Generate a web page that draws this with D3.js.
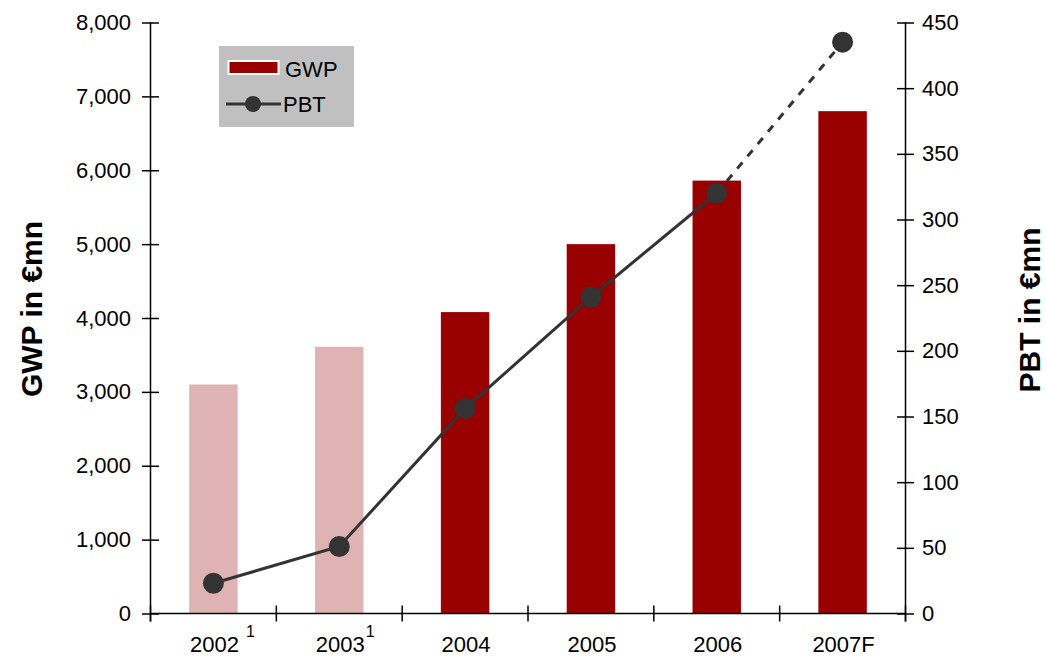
<!DOCTYPE html>
<html>
<head>
<meta charset="utf-8">
<script src="https://cdn.jsdelivr.net/npm/d3@7"></script>
<style>
  html, body { margin: 0; padding: 0; background: #fff; }
  svg { display: block; font-family: "Liberation Sans", Arial, sans-serif; }
</style>
</head>
<body>
<svg id="chart" width="1046" height="658"></svg>
<script>
// ---- data ----
const categories = ["2002", "2003", "2004", "2005", "2006", "2007F"];
const footnotes = ["1", "1", "", "", "", ""];
const footnoteGap = [7, 1, 0, 0, 0, 0];
const gwpValues = [3100, 3610, 4080, 5000, 5860, 6800];
const pbtValues = [23, 51, 156, 241, 320, 435];
const forecastFlags = [false, false, false, false, false, true];
const lightBars = [true, true, false, false, false, false];
const gwpTicks = [0, 1000, 2000, 3000, 4000, 5000, 6000, 7000, 8000];
const pbtTicks = [0, 50, 100, 150, 200, 250, 300, 350, 400, 450];
const legendLabels = ["GWP", "PBT"];

(function () {
// ---- layout ----
const svg = d3.select("#chart");
const pL = 150.5, pR = 905.5, pT = 22.5, pB = 613.5;
const dark = "#990000", light = "#dfb3b3", lineCol = "#333333";
const fs = 22;

const x = d3.scaleBand().domain(categories).range([pL, pR]).paddingInner(0).paddingOuter(0);
const yL = d3.scaleLinear().domain([0, 8000]).range([pB, pT]);
const yR = d3.scaleLinear().domain([0, 450]).range([pB, pT]);
const bw = x.bandwidth();
const barW = bw * 0.385;

const data = categories.map((c, i) => ({
  cat: c, gwp: gwpValues[i], pbt: pbtValues[i], light: lightBars[i], fc: forecastFlags[i]
}));

// bars
svg.append("g").selectAll("rect").data(data).join("rect")
  .attr("x", d => x(d.cat) + bw / 2 - barW / 2)
  .attr("width", barW)
  .attr("y", d => yL(d.gwp))
  .attr("height", d => yL(0) - yL(d.gwp))
  .attr("fill", d => d.light ? light : dark);

// left axis
const axL = svg.append("g").attr("transform", `translate(${pL},0)`)
  .call(d3.axisLeft(yL).tickValues(gwpTicks).tickSizeInner(8.5).tickSizeOuter(0).tickPadding(11)
    .tickFormat(d3.format(",")));
axL.selectAll(".tick line").attr("x2", -8.5).attr("x1", 8.5);
axL.select(".domain").attr("d", `M0,${pT - 0.5}V${pB + 8}`);

// right axis
const axR = svg.append("g").attr("transform", `translate(${pR},0)`)
  .call(d3.axisRight(yR).tickValues(pbtTicks).tickSizeInner(8.5).tickSizeOuter(0).tickPadding(8)
    );
axR.selectAll(".tick line").attr("x1", -8.5).attr("x2", 8.5);
axR.select(".domain").attr("d", `M0,${pT - 0.5}V${pB + 8}`);

// bottom axis (ticks at category boundaries)
const boundaries = categories.map(c => x(c)).concat([pR]);
const axB = svg.append("g");
axB.append("line").attr("x1", pL).attr("x2", pR).attr("y1", pB).attr("y2", pB)
  .attr("stroke", "#000").attr("stroke-width", 1.5);
axB.selectAll("line.bt").data(boundaries).join("line").attr("class", "bt")
  .attr("x1", d => d).attr("x2", d => d).attr("y1", pB - 8).attr("y2", pB + 8)
  .attr("stroke", "#000").attr("stroke-width", 1.5);

[axL, axR].forEach(a => {
  a.selectAll("line, path").attr("stroke", "#000").attr("stroke-width", 1.5);
  a.selectAll("text").attr("font-size", fs).attr("fill", "#000")
    .attr("font-family", '"Liberation Sans", Arial, sans-serif');
});

// x labels
const xl = svg.append("g").selectAll("g").data(data).join("g");
xl.append("text")
  .attr("x", (d) => x(d.cat) + bw / 2 + 1)
  .attr("y", 652)
  .attr("text-anchor", "middle")
  .attr("font-size", fs)
  .text(d => d.cat)
  .each(function(d, i) {
    if (!footnotes[i]) return;
    const bb = this.getBBox();
    d3.select(this.parentNode).append("text")
      .attr("x", bb.x + bb.width + footnoteGap[i])
      .attr("y", 637)
      .attr("font-size", 16)
      .text(footnotes[i]);
  });

// PBT line
const line = d3.line().x(d => x(d.cat) + bw / 2).y(d => yR(d.pbt));
const actual = data.filter(d => !d.fc);
const fcIdx = data.findIndex(d => d.fc);
const forecast = data.slice(fcIdx - 1);
svg.append("path").datum(actual).attr("d", line)
  .attr("fill", "none").attr("stroke", lineCol).attr("stroke-width", 3);
svg.append("path").datum(forecast).attr("d", line)
  .attr("fill", "none").attr("stroke", lineCol).attr("stroke-width", 3)
  .attr("stroke-dasharray", "8,8");
svg.append("g").selectAll("circle").data(data).join("circle")
  .attr("cx", d => x(d.cat) + bw / 2).attr("cy", d => yR(d.pbt))
  .attr("r", 10.5).attr("fill", lineCol);

// axis titles
svg.append("text")
  .attr("transform", `translate(42,309) rotate(-90)`)
  .attr("text-anchor", "middle").attr("font-weight", "bold").attr("font-size", 30)
  .text("GWP in €mn");
svg.append("text")
  .attr("transform", `translate(1040,310) rotate(-90)`)
  .attr("text-anchor", "middle").attr("font-weight", "bold").attr("font-size", 30)
  .text("PBT in €mn");

// legend
const lg = svg.append("g");
lg.append("rect").attr("x", 219).attr("y", 46).attr("width", 135).attr("height", 81).attr("fill", "#c0c0c0");
lg.append("rect").attr("x", 228.5).attr("y", 61).attr("width", 50).attr("height", 13)
  .attr("fill", dark).attr("stroke", "#fff").attr("stroke-width", 2);
lg.append("text").attr("x", 285).attr("y", 77).attr("font-size", fs).text(legendLabels[0]);
lg.append("line").attr("x1", 226).attr("x2", 281).attr("y1", 104).attr("y2", 104)
  .attr("stroke", lineCol).attr("stroke-width", 3);
lg.append("circle").attr("cx", 253).attr("cy", 104).attr("r", 8).attr("fill", lineCol);
lg.append("text").attr("x", 283).attr("y", 112).attr("font-size", fs).text(legendLabels[1]);
})();
</script>
</body>
</html>
